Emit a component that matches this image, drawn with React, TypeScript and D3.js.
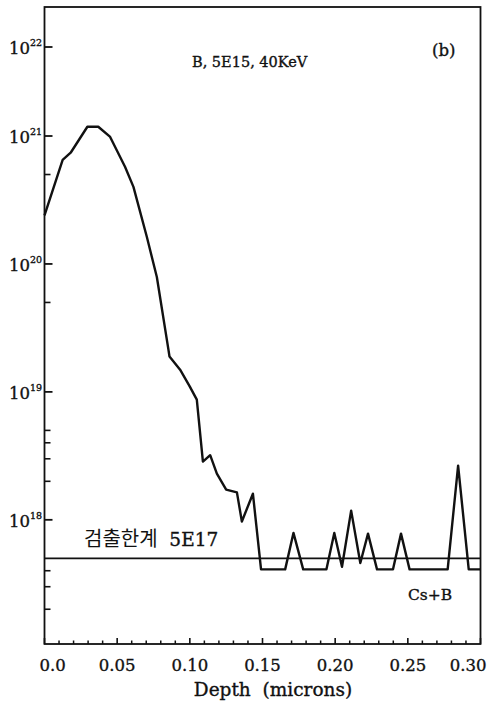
import React from 'react';
import * as d3 from 'd3';

const depth = [0, 0.0125, 0.018, 0.0295, 0.037, 0.045, 0.0554, 0.0612, 0.0704, 0.0773, 0.0853, 0.086, 0.0933, 0.1, 0.1048, 0.109, 0.114, 0.1186, 0.125, 0.1324, 0.1358, 0.1434, 0.149, 0.1656, 0.1713, 0.178, 0.194, 0.1994, 0.2047, 0.211, 0.2173, 0.2226, 0.2288, 0.2398, 0.2453, 0.2512, 0.2774, 0.2846, 0.2919, 0.3];
const conc = [2.4e20, 6.5e20, 7.4e20, 1.27e21, 1.27e21, 9.9e20, 5.75e20, 4.0e20, 1.63e20, 7.9e19, 2.13e19, 1.89e19, 1.49e19, 1.1e19, 8.7e18, 2.85e18, 3.2e18, 2.3e18, 1.72e18, 1.64e18, 9.7e17, 1.6e18, 4.1e17, 4.1e17, 7.9e17, 4.1e17, 4.1e17, 7.9e17, 4.3e17, 1.18e18, 4.6e17, 7.8e17, 4.1e17, 4.1e17, 7.8e17, 4.1e17, 4.1e17, 2.65e18, 4.1e17, 4.1e17];

const yMajor = [1e18, 1e19, 1e20, 1e21, 1e22];
const yMajorExp = ['18', '19', '20', '21', '22'];
const yMinor = [2e17, 3e17, 4e17, 2e18, 3e18, 4e18, 5e18, 5e19, 5e20];
const xMajor = [0, 0.05, 0.1, 0.15, 0.2, 0.25, 0.3];
const xMajorLabels = ['0.0', '0.05', '0.10', '0.15', '0.20', '0.25', '0.30'];
const xMinor = d3.range(1, 30).map((i) => i / 100).filter((v) => Math.round(v * 100) % 5 !== 0);
const detectionLimit = 5e17;

const SERIF = '"DejaVu Serif", serif';
const INK = '#111';
const heavy = { stroke: INK, strokeWidth: 0.35 } as const;

export default function App() {
  const x = d3.scaleLinear().domain([0, 0.3]).range([44.5, 480.5]);
  const y = d3.scaleLog().domain([1.07e17, 1e21, 1e22]).range([644, 136, 47]);
  const top = 7;
  const bottom = 644;
  const left = x(0);
  const right = x(0.3);

  const line = d3
    .line<number>()
    .x((_, i) => x(depth[i]))
    .y((d) => y(d));

  return (
    <svg width={490} height={701} style={{ position: 'absolute', left: 0, top: 0, background: '#fff' }}>
      <rect x={0} y={0} width={490} height={701} fill="#fff" />
      <rect x={left} y={top} width={right - left} height={bottom - top} fill="none" stroke={INK} strokeWidth={1.8} />
      {yMajor.map((v, i) => (
        <g key={'ym' + i}>
          <line x1={left} x2={left + 8} y1={y(v)} y2={y(v)} stroke={INK} strokeWidth={1.8} />
          <text x={30} y={y(v) + 7} textAnchor="end" fontFamily={SERIF} fontSize={16.5} fill={INK} {...heavy}>10</text>
          <text x={30} y={y(v) - 1} textAnchor="start" fontFamily={SERIF} fontSize={9.5} fill={INK} {...heavy}>{yMajorExp[i]}</text>
        </g>
      ))}
      {yMinor.map((v, i) => (
        <line key={'yn' + i} x1={left} x2={left + 6} y1={y(v)} y2={y(v)} stroke={INK} strokeWidth={1.6} />
      ))}
      {xMajor.map((v, i) => (
        <g key={'xm' + i}>
          <line x1={x(v)} x2={x(v)} y1={bottom} y2={bottom - 6} stroke={INK} strokeWidth={1.6} />
          <text
            x={i === 0 ? x(v) - 5 : i === xMajor.length - 1 ? x(v) + 6 : x(v)}
            y={671}
            textAnchor={i === 0 ? 'start' : i === xMajor.length - 1 ? 'end' : 'middle'}
            fontFamily={SERIF}
            fontSize={16.5}
            fill={INK}
            {...heavy}
          >
            {xMajorLabels[i]}
          </text>
        </g>
      ))}
      {xMinor.map((v, i) => (
        <line key={'xn' + i} x1={x(v)} x2={x(v)} y1={bottom} y2={bottom - 3.5} stroke={INK} strokeWidth={1.5} />
      ))}
      <line x1={left} x2={right} y1={y(detectionLimit)} y2={y(detectionLimit)} stroke={INK} strokeWidth={1.8} />
      <path d={line(conc) || ''} fill="none" stroke={INK} strokeWidth={2.4} strokeLinejoin="round" />
      <text x={192} y={67} fontFamily={SERIF} fontSize={14.5} fill={INK} {...heavy}>B, 5E15, 40KeV</text>
      <text x={432} y={56} fontFamily={SERIF} fontSize={16.5} fill={INK} {...heavy}>(b)</text>
      <text x={84} y={546} fill={INK} style={{ whiteSpace: 'pre' }}>
        <tspan fontFamily='"Noto Sans CJK KR", sans-serif' fontSize={20}>검출한계</tspan>
        <tspan fontFamily={SERIF} fontSize={18.5} {...heavy}>{'  5E17'}</tspan>
      </text>
      <text x={408} y={600} fontFamily={SERIF} fontSize={15.5} fill={INK} {...heavy}>Cs+B</text>
      <text x={273} y={696} textAnchor="middle" fontFamily={SERIF} fontSize={18.5} fill={INK} style={{ whiteSpace: 'pre' }} {...heavy}>
        {'Depth  (microns)'}
      </text>
    </svg>
  );
}
